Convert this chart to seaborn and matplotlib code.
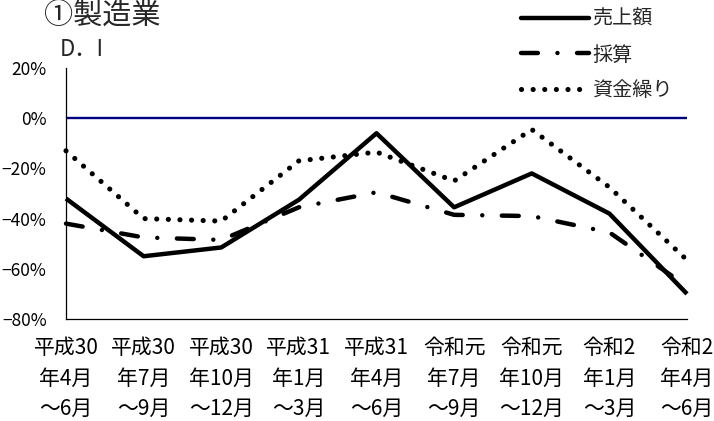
import matplotlib
matplotlib.use("Agg")
import matplotlib.pyplot as plt
import seaborn as sns
import pandas as pd
from matplotlib.lines import Line2D
from matplotlib.ticker import FuncFormatter

# Survey periods (x axis)
periods = [
    "平成30\n年4月\n～6月", "平成30\n年7月\n～9月", "平成30\n年10月\n～12月",
    "平成31\n年1月\n～3月", "平成31\n年4月\n～6月", "令和元\n年7月\n～9月",
    "令和元\n年10月\n～12月", "令和2\n年1月\n～3月", "令和2\n年4月\n～6月",
]

# D.I values (%) for the manufacturing sector
sales = [-32, -55, -51.5, -32.5, -6, -35.5, -22, -38, -70]
profit = [-42, -47.5, -48.5, -35.5, -29.5, -38.5, -39, -45.5, -67]
funding = [-13, -40, -41, -17, -13.5, -25, -4.5, -27.5, -56.5]

series_names = ["売上額", "採算", "資金繰り"]
y_ticks = [-80, -60, -40, -20, 0, 20]

df = pd.DataFrame({
    "period": list(range(len(periods))) * 3,
    "value": sales + profit + funding,
    "series": [s for s in series_names for _ in periods],
})

sns.set_theme(style="white")
plt.rcParams["font.family"] = ["Noto Sans CJK JP", "DejaVu Sans"]
plt.rcParams["axes.unicode_minus"] = True

fig = plt.figure(figsize=(7.14, 4.21), dpi=100)
ax = fig.add_axes([66 / 714, 1 - 319 / 421, (687 - 66) / 714, (319 - 68) / 421])

styles = {
    "売上額": dict(linestyle="-", lw=3.2),
    "採算": dict(linestyle=(0, (3.8, 4.4, 0.01, 4.4)), lw=3.2),
    "資金繰り": dict(linestyle=(0, (0.01, 2.25)), lw=3.7),
}

handles = []
for name in series_names:
    sub = df[df["series"] == name]
    sns.lineplot(data=sub, x="period", y="value", ax=ax, color="black",
                 linestyle=styles[name]["linestyle"], lw=styles[name]["lw"],
                 legend=False, clip_on=False)
    line = ax.lines[-1]
    line.set_dash_capstyle("round")
    line.set_solid_capstyle("butt")
    h = Line2D([], [], color="black", linestyle=styles[name]["linestyle"],
               lw=styles[name]["lw"], dash_capstyle="round")
    handles.append(h)

ax.axhline(0, color="#000080", lw=1.7, zorder=1)

ax.set_xlim(0, len(periods) - 1)
ax.set_ylim(-80, 20)
ax.set_yticks(y_ticks)
ax.yaxis.set_major_formatter(FuncFormatter(lambda v, p: f"{v:.0f}%".replace("-", "\u2212")))
ax.set_xticks(range(len(periods)))
ax.set_xticklabels(periods, fontsize=15, linespacing=1.5)
ax.tick_params(axis="x", direction="in", length=5, width=0.8, pad=13, colors="black")
ax.tick_params(axis="y", direction="in", length=5, width=0.8, pad=14, labelsize=12.5,
               colors="black")
ax.set_xlabel("")
ax.set_ylabel("")

for side in ("top", "right"):
    ax.spines[side].set_visible(False)
for side in ("left", "bottom"):
    ax.spines[side].set_color("black")
    ax.spines[side].set_linewidth(0.9)

fig.text(44 / 714, 1 - 25 / 421, "①製造業", fontsize=21, va="baseline", ha="left")
fig.text(60 / 714, 1 - 50 / 421, "D．I", fontsize=16, va="center", ha="left")

leg = ax.legend(handles, series_names, loc="upper left",
                bbox_to_anchor=(521 / 714, 1 - 9 / 421),
                bbox_transform=fig.transFigure, frameon=False, fontsize=14.5,
                handlelength=3.4, handletextpad=0.15, labelspacing=0.72,
                borderpad=0, borderaxespad=0)

fig.savefig("out.png", dpi=100)
